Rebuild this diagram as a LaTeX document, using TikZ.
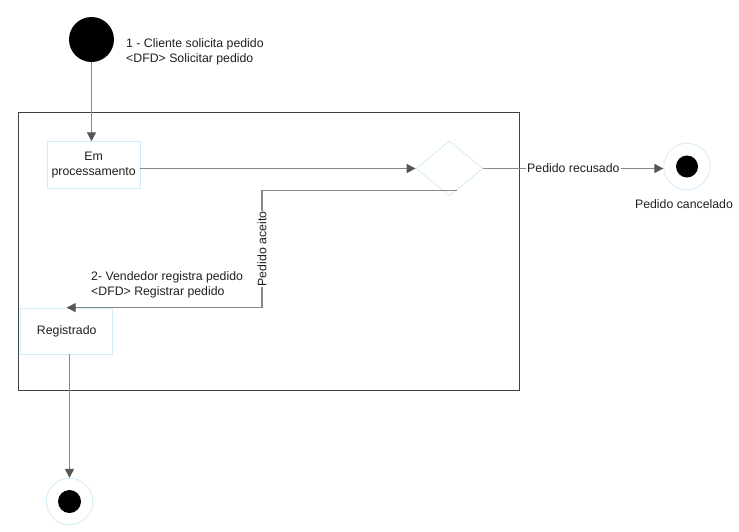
\documentclass[tikz,border=0pt]{standalone}
\usepackage{fontspec}
\setmainfont{Liberation Sans}
\usetikzlibrary{shapes.geometric,arrows.meta,calc}
\definecolor{boxline}{HTML}{D4ECF7}
\definecolor{connc}{HTML}{888888}
\definecolor{tipc}{HTML}{555555}
\definecolor{framec}{HTML}{404040}
\begin{document}
\begin{tikzpicture}[x=1pt,y=-1pt,
  txt/.style={font=\fontsize{12.3}{15.5}\selectfont, text=black!88, inner sep=0pt, align=left},
  statebox/.style={draw=boxline, line width=0.8pt, fill=white, inner sep=0pt, align=center,
    font=\fontsize{12.3}{15.5}\selectfont, text=black!88},
  conn/.style={draw=connc, line width=1.2pt, -{Triangle[length=9pt,width=9pt,color=tipc]}},
  lbl/.style={txt, fill=white, inner sep=1pt},
  dot/.style={circle, fill=black, inner sep=0pt},
  ring/.style={circle, draw=boxline, line width=0.8pt, fill=white, inner sep=0pt, minimum size=46.5pt}
]
\useasboundingbox (0,0) rectangle (739,531);
% frame
\node[draw=framec, line width=1pt, minimum width=501pt, minimum height=278pt, inner sep=0pt] (frame) at (268.5,251) {};
% start
\node[dot, minimum size=45pt] (start) at (91.5,39.5) {};
\node[txt, anchor=west] (lab1) at (126,52) {1 - Cliente solicita pedido\\<DFD> Solicitar pedido};
% states
\node[statebox, minimum width=92.7pt, minimum height=46.3pt] (proc) at (93.7,164.8) {Em\\processamento};
\node[diamond, draw=boxline, line width=0.8pt, fill=white, inner sep=0pt, minimum width=67pt, minimum height=55pt] (dec) at (449.5,168.5) {};
\node[ring] (cancel) at (687,166.5) {};
\node[dot, minimum size=22pt] (cancelin) at (cancel) {};
\node[txt] (lab3) at (684,204) {Pedido cancelado};
\node[statebox, minimum width=92pt, minimum height=46pt] (reg) at (66.7,331) {Registrado};
\node[ring] (final) at (69.5,501.5) {};
\node[dot, minimum size=23pt] (finalin) at (final) {};
\node[txt, anchor=west] (lab2) at (91,285) {2- Vendedor registra pedido\\<DFD> Registrar pedido};
% connectors
\draw[conn] (start |- start.south) -- (start |- proc.north);
\draw[conn] (proc.east |- dec.west) -- (dec.west);
\draw[conn] (dec.east) -- node[lbl] (recus) {Pedido recusado} (dec.east -| cancel.west);
\coordinate (acc) at ($(dec.east)!0.78!(dec.south)$);
\coordinate (bend) at (262,190);
\draw[conn] (acc) -- (acc -| bend) -- node[lbl, rotate=90, pos=0.5] (aceito) {Pedido aceito} (bend |- reg.north) -- (reg.north);
\draw[conn] (final |- reg.south) -- (final.north);
\end{tikzpicture}
\end{document}
